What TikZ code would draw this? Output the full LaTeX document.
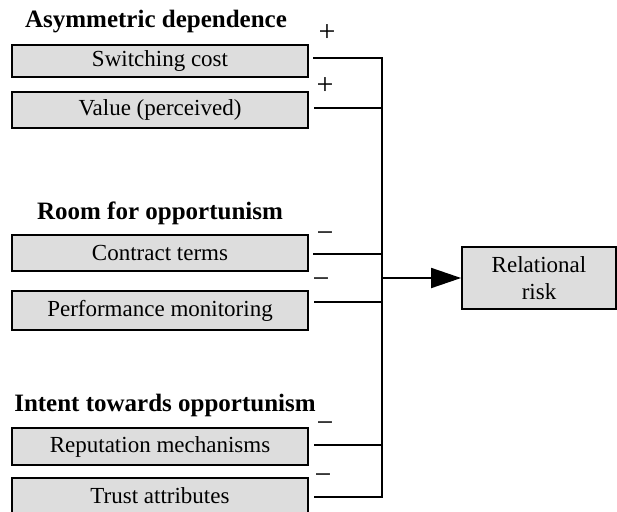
\documentclass[tikz,border=0pt]{standalone}
\usepackage{fontspec}
\setmainfont{Liberation Serif}
\usetikzlibrary{arrows.meta}
\definecolor{boxfill}{RGB}{221,221,221}
\begin{document}
\begin{tikzpicture}[x=1pt,y=-1pt,
  factor/.style={draw=black, line width=1.8pt, fill=boxfill, minimum width=296pt,
    inner sep=0pt, font=\fontsize{23}{27}\selectfont},
  group/.style={font=\bfseries\fontsize{25}{29}\selectfont, inner sep=0pt},
  sign/.style={font=\fontsize{30}{32}\selectfont, inner sep=0pt},
  wire/.style={line width=1.8pt},
]
\useasboundingbox (0,0) rectangle (617,511);

% group headings
\node[group] (hA) at (156,22) {Asymmetric dependence};
\node[group] (hB) at (160,213) {Room for opportunism};
\node[group] (hC) at (165,405) {Intent towards opportunism};

% factor boxes
\node[factor, minimum height=32pt] (b1) at (160,61) {Switching cost};
\node[factor, minimum height=36pt] (b2) at (160,110) {Value (perceived)};
\node[factor, minimum height=36pt] (b3) at (160,253) {Contract terms};
\node[factor, minimum height=39pt] (b4) at (160,310.5) {Performance monitoring};
\node[factor, minimum height=37pt] (b5) at (160,446.5) {Reputation mechanisms};
\node[factor, minimum height=36pt] (b6) at (160,496) {Trust attributes};

% outcome box
\node[factor, minimum width=154pt, minimum height=62pt, align=center,
      font=\fontsize{23}{27}\selectfont] (rr) at (539,278) {Relational\\risk};

% wire start points, just right of each box
\coordinate (l1) at (313,58);
\coordinate (l2) at (314,108);
\coordinate (l3) at (313,254);
\coordinate (l4) at (314,302);
\coordinate (l5) at (314,445);
\coordinate (l6) at (314,497);
\coordinate (bus) at (382,278);

% collecting bus
\draw[wire] (l1) -- (l1 -| bus) -- (l6 -| bus) -- (l6);
\draw[wire] (l2) -- (l2 -| bus);
\draw[wire] (l3) -- (l3 -| bus);
\draw[wire] (l4) -- (l4 -| bus);
\draw[wire] (l5) -- (l5 -| bus);
\draw[wire, -{Triangle[length=30pt,width=20pt]}] (bus) -- (rr.west);

% effect signs
\node[sign] (p1) at (327,33) {+};
\node[sign] (p2) at (325,86) {+};
\node[sign] (m3) at (325,237) {−};
\node[sign] (m4) at (321,283) {−};
\node[sign] (m5) at (325,427) {−};
\node[sign] (m6) at (323,479) {−};
\end{tikzpicture}
\end{document}
